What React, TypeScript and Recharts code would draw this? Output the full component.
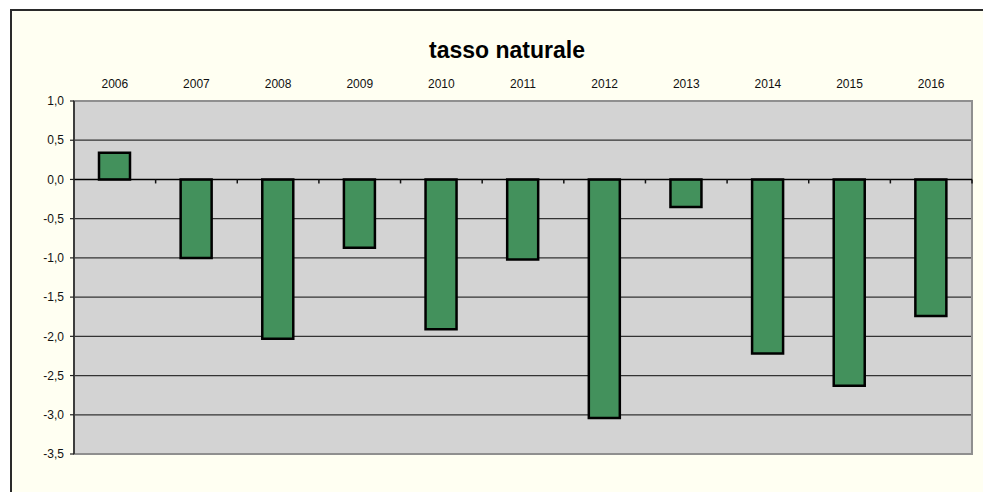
import React from 'react';
import { BarChart, Bar, XAxis, YAxis, CartesianGrid, ReferenceLine, ReferenceArea } from 'recharts';

const years = ['2006', '2007', '2008', '2009', '2010', '2011', '2012', '2013', '2014', '2015', '2016'];
const tassoNaturale = [0.34, -1.0, -2.03, -0.87, -1.91, -1.02, -3.04, -0.35, -2.22, -2.63, -1.74];
const yTicks = [1, 0.5, 0, -0.5, -1, -1.5, -2, -2.5, -3, -3.5];
const title = 'tasso naturale';

const data = years.map((y, i) => ({ year: y, value: tassoNaturale[i] }));

const FONT = '"Liberation Sans", Arial, Helvetica, sans-serif';

const ZeroLine = (props: any) => {
  const { x1, y1, x2, y2 } = props;
  if (x1 == null || x2 == null) return null;
  const n = years.length;
  const step = (x2 - x1) / n;
  const ticks = [];
  for (let i = 1; i <= n; i++) {
    const x = x1 + step * i;
    ticks.push(<line key={i} x1={x} x2={x} y1={y1} y2={y1 + 4} stroke="#111" strokeWidth={1.5} />);
  }
  return (
    <g>
      <line x1={x1} y1={y1} x2={x2} y2={y2} stroke="#000" strokeWidth={1.5} />
      {ticks}
    </g>
  );
};

export default function App() {
  return (
    <div style={{ position: 'absolute', left: 0, top: 0, width: 983, height: 492, overflow: 'hidden', background: '#fff' }}>
      <div
        style={{
          position: 'absolute',
          left: 10,
          top: 9,
          width: 1000,
          height: 520,
          border: '2px solid #2a2a2a',
          background: '#FFFFF2',
          boxSizing: 'border-box',
        }}
      />
      <div
        style={{
          position: 'absolute',
          left: 307,
          width: 400,
          top: 36,
          textAlign: 'center',
          fontFamily: FONT,
          fontWeight: 'bold',
          fontSize: 23,
          lineHeight: '28px',
          color: '#000',
        }}
      >
        {title}
      </div>
      <div style={{ position: 'absolute', left: 0, top: 0 }}>
        <BarChart
          width={983}
          height={492}
          data={data}
          margin={{ top: 71, left: 14, right: 11, bottom: 38 }}
          barCategoryGap="30%"
        >
          <CartesianGrid vertical={false} fill="#D3D3D3" stroke="#333" strokeWidth={1.2} horizontalValues={[0.5, -0.5, -1, -1.5, -2, -2.5, -3]} />
          <ReferenceArea y1={-3.5} y2={1} fill="none" stroke="#8F8F8F" strokeWidth={2} ifOverflow="visible" />
          <XAxis
            dataKey="year"
            orientation="top"
            height={30}
            axisLine={false}
            tickLine={false}
            tickSize={6}
            tickMargin={7}
            interval={0}
            tick={{ fontSize: 12, fill: '#111', fontFamily: FONT }}
          />
          <YAxis
            width={60}
            domain={[-3.5, 1]}
            ticks={yTicks}
            interval={0}
            allowDataOverflow
            axisLine={{ stroke: '#222', strokeWidth: 1.5 }}
            tickLine={{ stroke: '#222', strokeWidth: 1.2 }}
            tickSize={4}
            tickMargin={6}
            tick={{ fontSize: 12, fill: '#111', fontFamily: FONT }}
            tickFormatter={(v: number) => v.toFixed(1).replace('.', ',')}
          />
          <ReferenceLine y={0} shape={ZeroLine} />
          <Bar dataKey="value" fill="#43915C" stroke="#000" strokeWidth={2.5} barSize={31} isAnimationActive={false} />
        </BarChart>
      </div>
    </div>
  );
}
